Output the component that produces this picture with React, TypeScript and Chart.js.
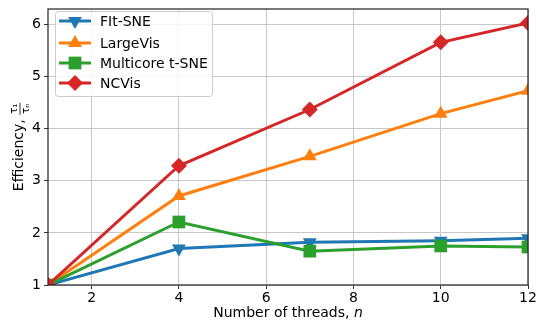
import React, { useEffect, useRef } from "react";
import { Chart, registerables } from "chart.js";

Chart.register(...registerables);

const threads = [1, 4, 7, 10, 12];
const fitsne = [1, 1.7, 1.82, 1.85, 1.9];
const largevis = [1, 2.71, 3.47, 4.29, 4.73];
const multicore = [1, 2.21, 1.65, 1.75, 1.73];
const ncvis = [1, 3.29, 4.37, 5.66, 6.03];
const seriesNames = ["FIt-SNE", "LargeVis", "Multicore t-SNE", "NCVis"];
const xTicks = [2, 4, 6, 8, 10, 12];
const yTicks = [1, 2, 3, 4, 5, 6];

const COLORS = ["#1f77b4", "#ff7f0e", "#2ca02c", "#d62728"];
const STYLES = ["triangle", "triangle", "rect", "rectRot"];
const ROT = [180, 0, 0, 0];
const RADII = [8, 8, 9, 8];
const FONT = "DejaVu Sans";

function drawMarker(ctx: CanvasRenderingContext2D, style: string, rot: number, r: number, x: number, y: number) {
  ctx.beginPath();
  if (style === "triangle") {
    const s = rot === 180 ? -1 : 1;
    ctx.moveTo(x, y - s * r);
    ctx.lineTo(x + r * 0.866, y + s * r * 0.5);
    ctx.lineTo(x - r * 0.866, y + s * r * 0.5);
  } else if (style === "rect") {
    const h = r * Math.SQRT1_2;
    ctx.rect(x - h, y - h, 2 * h, 2 * h);
  } else {
    ctx.moveTo(x, y - r);
    ctx.lineTo(x + r, y);
    ctx.lineTo(x, y + r);
    ctx.lineTo(x - r, y);
  }
  ctx.closePath();
  ctx.fill();
}

const decorPlugin = {
  id: "decor",
  afterDraw(chart: any) {
    const ctx: CanvasRenderingContext2D = chart.ctx;
    const a = chart.chartArea;
    ctx.save();
    // frame
    ctx.strokeStyle = "#222222";
    ctx.lineWidth = 1.2;
    ctx.strokeRect(a.left, a.top, a.right - a.left, a.bottom - a.top);

    // legend
    const lx = 55, ly = 11, lw = 157, lh = 85;
    ctx.fillStyle = "rgba(255,255,255,0.85)";
    ctx.strokeStyle = "#cccccc";
    ctx.lineWidth = 1;
    ctx.beginPath();
    (ctx as any).roundRect(lx + 0.5, ly + 0.5, lw, lh, 3);
    ctx.fill();
    ctx.stroke();
    const rows = [21, 43, 63, 83];
    seriesNames.forEach((name, i) => {
      const y = rows[i];
      ctx.strokeStyle = COLORS[i];
      ctx.lineWidth = 3;
      ctx.beginPath();
      ctx.moveTo(59, y);
      ctx.lineTo(91, y);
      ctx.stroke();
      ctx.fillStyle = COLORS[i];
      drawMarker(ctx, STYLES[i], ROT[i], RADII[i], 75, y);
      ctx.fillStyle = "#000";
      ctx.font = `14px ${FONT}`;
      ctx.textBaseline = "middle";
      ctx.textAlign = "left";
      ctx.fillText(name, 100, y + 1);
    });

    // x title
    ctx.fillStyle = "#000";
    ctx.textBaseline = "middle";
    const t1 = "Number of threads, ";
    ctx.font = `14px ${FONT}`;
    const w1 = ctx.measureText(t1).width;
    ctx.font = `italic 14px ${FONT}`;
    const w2 = ctx.measureText("n").width;
    const cx = (a.left + a.right) / 2;
    const sx = cx - (w1 + w2) / 2;
    ctx.textAlign = "left";
    ctx.font = `14px ${FONT}`;
    ctx.fillText(t1, sx, 313);
    ctx.font = `italic 14px ${FONT}`;
    ctx.fillText("n", sx + w1, 313);

    // y title
    ctx.translate(19, (a.top + a.bottom) / 2);
    ctx.rotate(-Math.PI / 2);
    ctx.font = `14px ${FONT}`;
    const e = "Efficiency, ";
    const ew = ctx.measureText(e).width;
    ctx.font = `10px ${FONT}`;
    const fw = Math.max(ctx.measureText("τ₁").width, ctx.measureText("τₙ").width) + 2;
    const s = -(ew + fw) / 2;
    ctx.font = `14px ${FONT}`;
    ctx.textAlign = "left";
    ctx.fillText(e, s, 0);
    const fx = s + ew + fw / 2;
    ctx.strokeStyle = "#000";
    ctx.lineWidth = 0.8;
    ctx.beginPath();
    ctx.moveTo(fx - fw / 2, 1);
    ctx.lineTo(fx + fw / 2, 1);
    ctx.stroke();
    ctx.font = `10px ${FONT}`;
    ctx.textAlign = "center";
    ctx.fillText("τ₁", fx, -5);
    ctx.fillText("τₙ", fx, 7);
    ctx.restore();
  },
};

export default function App() {
  const ref = useRef<HTMLCanvasElement>(null);
  useEffect(() => {
    document.body.style.margin = "0";
    const all = [fitsne, largevis, multicore, ncvis];
    const chart = new Chart(ref.current!, {
      type: "line",
      data: {
        datasets: all.map((vals, i) => ({
          label: seriesNames[i],
          data: threads.map((t, j) => ({ x: t, y: vals[j] })),
          borderColor: COLORS[i],
          backgroundColor: COLORS[i],
          borderWidth: 3,
          pointStyle: STYLES[i] as any,
          pointRotation: ROT[i],
          pointRadius: RADII[i],
          pointBorderWidth: 0,
          pointBackgroundColor: COLORS[i],
          tension: 0,
          order: 4 - i,
        })),
      },
      options: {
        animation: false,
        responsive: false,
        layout: { padding: { top: 4, right: 8.5, left: 0, bottom: 0 } },
        plugins: { legend: { display: false }, tooltip: { enabled: false } },
        scales: {
          x: {
            type: "linear",
            min: 1,
            max: 12,
            afterBuildTicks: (s: any) => { s.ticks = xTicks.map((v) => ({ value: v })); },
            afterFit: (s: any) => { s.height = 39; s.paddingLeft = 0; s.paddingRight = 0; },
            grid: { color: "#c8c8c8", lineWidth: 1, tickColor: "#333", tickLength: 4, drawTicks: true },
            border: { display: false },
            ticks: { color: "#000", font: { family: FONT, size: 14 }, padding: 1, maxRotation: 0 },
          },
          y: {
            type: "linear",
            min: 1,
            max: 6.3,
            afterBuildTicks: (s: any) => { s.ticks = yTicks.map((v) => ({ value: v })); },
            afterFit: (s: any) => { s.width = 48; s.paddingTop = 0; s.paddingBottom = 0; },
            grid: { color: "#c8c8c8", lineWidth: 1, tickColor: "#333", tickLength: 4, drawTicks: true },
            border: { display: false },
            ticks: { color: "#000", font: { family: FONT, size: 14 }, padding: 3 },
          },
        },
      },
      plugins: [decorPlugin],
    });
    return () => chart.destroy();
  }, []);
  return (
    <div style={{ position: "absolute", left: 0, top: 0, width: 537, height: 324 }}>
      <canvas ref={ref} width={537} height={324} style={{ width: 537, height: 324 }} />
    </div>
  );
}
